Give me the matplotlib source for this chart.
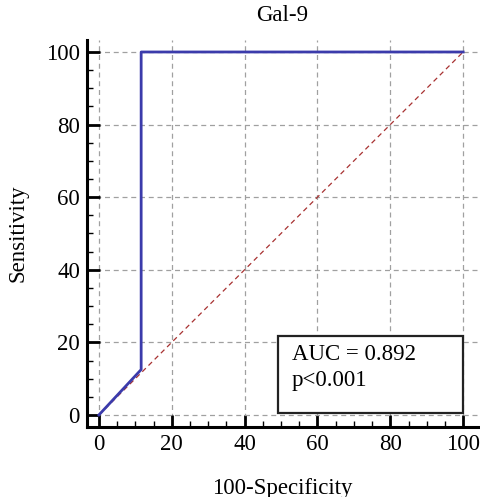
import matplotlib
matplotlib.use("Agg")
import matplotlib.pyplot as plt
from matplotlib.ticker import MultipleLocator
from matplotlib.patches import Rectangle

plt.rcParams['font.family'] = ['Liberation Serif', 'DejaVu Serif']

# ROC points
fpr = [0, 11.6, 11.6, 100]
tpr = [0, 12.5, 100, 100]
ref_x = [0, 100]
ref_y = [0, 100]
title = "Gal-9"
auc_lines = ["AUC = 0.892", "p<0.001"]

fig = plt.figure(figsize=(4.8, 4.97), dpi=100)
ax = fig.add_axes([0.181, 0.141, 0.815, 0.7785])

ax.plot(ref_x, ref_y, color='#a83232', lw=0.9, ls=(0, (4, 3)), zorder=2)
ax.plot(fpr, tpr, color='#3b3bab', lw=2.0, zorder=3)

ax.set_xlim(-3.3, 104.1)
ax.set_ylim(-3.3, 103.3)
ax.xaxis.set_major_locator(MultipleLocator(20))
ax.yaxis.set_major_locator(MultipleLocator(20))
ax.xaxis.set_minor_locator(MultipleLocator(5))
ax.yaxis.set_minor_locator(MultipleLocator(5))
ax.grid(True, which='major', color='#a0a0a0', ls=(0, (4, 3)), lw=0.9)

for s in ['top', 'right']:
    ax.spines[s].set_visible(False)
for s in ['left', 'bottom']:
    ax.spines[s].set_linewidth(2.2)

ax.tick_params(which='major', direction='in', length=9, width=2, labelsize=16.5, pad=5)
ax.tick_params(which='minor', direction='in', length=4.5, width=1)

ax.set_title(title, fontsize=16.5, pad=14)
ax.set_xlabel("100-Specificity", fontsize=16.5)
ax.xaxis.set_label_coords(0.5, -0.133)
ax.set_ylabel("Sensitivity", fontsize=16.5)
ax.yaxis.set_label_coords(-0.15, 0.5)

# AUC box
ax.add_patch(Rectangle((0.489, 0.0356), 0.473, 0.2, transform=ax.transAxes,
                       fc='white', ec='#222222', lw=1.6, zorder=5))
ax.text(0.524, 0.186, auc_lines[0], transform=ax.transAxes, fontsize=16.5,
        va='center', ha='left', zorder=6)
ax.text(0.524, 0.121, auc_lines[1], transform=ax.transAxes, fontsize=16.5,
        va='center', ha='left', zorder=6)

fig.savefig("out.png", dpi=100)
